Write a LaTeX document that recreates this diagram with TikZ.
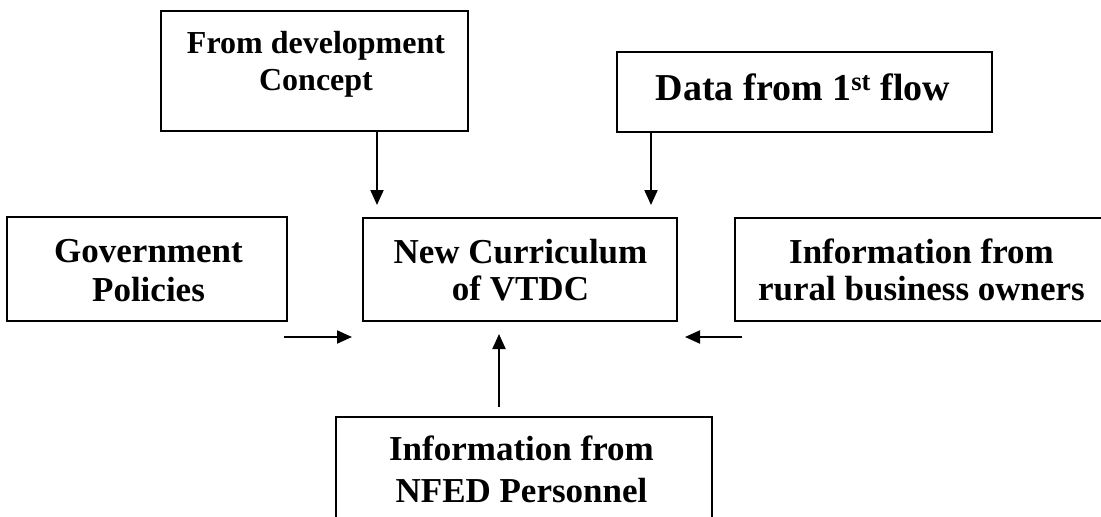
\documentclass[tikz,border=0pt]{standalone}
\usepackage{fontspec}
\setmainfont{Liberation Serif}
\usetikzlibrary{arrows.meta}
\begin{document}
\begin{tikzpicture}[x=1pt,y=-1pt,
  boxshape/.style={draw, line width=2pt, rectangle, inner sep=0pt},
  lbl/.style={align=center, anchor=base, inner sep=0pt},
  conn/.style={line width=2pt, -{Triangle[length=15pt,width=13pt]}}]
\useasboundingbox (0,0) rectangle (1101,517);
\clip (0,0) rectangle (1101,517);
\fill[white] (0,0) rectangle (1101,517);
% boxes
\node[boxshape, minimum width=307pt, minimum height=120pt] (devbox) at (314.5,71) {};
\node[boxshape, minimum width=375pt, minimum height=80pt] (databox) at (804.5,92) {};
\node[boxshape, minimum width=280pt, minimum height=104pt] (govbox) at (147,269) {};
\node[boxshape, minimum width=314pt, minimum height=103pt] (curbox) at (520,269.5) {};
\node[boxshape, minimum width=373pt, minimum height=103pt] (ruralbox) at (921.5,269.5) {};
\node[boxshape, minimum width=376pt, minimum height=160pt] (nfedbox) at (524,497) {};
% texts (anchor base = baseline of the last line)
\node[lbl, font=\bfseries\fontsize{32}{37}\selectfont] (devtxt) at (316,90) {From development\\Concept};
\node[lbl, font=\bfseries\fontsize{38}{44}\selectfont] (datatxt) at (803,100) {Data from 1\textsuperscript{st} flow};
\node[lbl, font=\bfseries\fontsize{35}{39}\selectfont] (govtxt) at (148.5,301) {Government\\Policies};
\node[lbl, font=\bfseries\fontsize{35}{37}\selectfont] (curtxt) at (520.5,300) {New Curriculum\\of VTDC};
\node[lbl, font=\bfseries\fontsize{35}{37}\selectfont] (ruraltxt) at (921.5,300) {Information from\\rural business owners};
\node[lbl, font=\bfseries\fontsize{35}{42}\selectfont] (nfedtxt) at (521.5,502) {Information from\\NFED Personnel};
% arrow coordinates
\coordinate (a1e) at (377,205);
\coordinate (a2e) at (651,205);
\coordinate (a3s) at (284,337);
\coordinate (a3e) at (352,337);
\coordinate (a4s) at (742,337);
\coordinate (a4e) at (685,337);
\coordinate (a5s) at (499,407);
\coordinate (a5e) at (499,334);
\draw[conn] (devbox.south -| a1e) -- (a1e);
\draw[conn] (databox.south -| a2e) -- (a2e);
\draw[conn] (a3s) -- (a3e);
\draw[conn] (a4s) -- (a4e);
\draw[conn] (a5s) -- (a5e);
\end{tikzpicture}
\end{document}
